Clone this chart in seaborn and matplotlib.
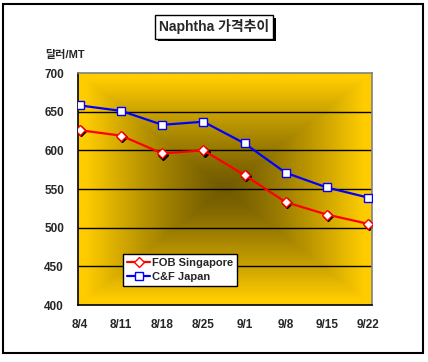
import numpy as np
import pandas as pd
import matplotlib
matplotlib.use("Agg")
import matplotlib.pyplot as plt
import matplotlib.patheffects as pe
from matplotlib.patches import Rectangle
from matplotlib.transforms import offset_copy
import seaborn as sns

dates = ["8/4", "8/11", "8/18", "8/25", "9/1", "9/8", "9/15", "9/22"]
fob_singapore = [626, 619, 596, 600, 568, 533, 517, 505]
cf_japan = [658, 651, 633, 637, 609, 571, 552, 539]
series_names = ["FOB Singapore", "C&F Japan"]

df = pd.DataFrame({
    "idx": list(range(len(dates))) * 2,
    "price": fob_singapore + cf_japan,
    "series": [series_names[0]] * len(dates) + [series_names[1]] * len(dates),
})

sns.set_style("white")
plt.rcParams['font.family'] = ['Liberation Sans', 'Noto Sans CJK KR', 'DejaVu Sans']

fig = plt.figure(figsize=(4.28, 3.62), dpi=100)
ax = fig.add_axes([78 / 428, 1 - 305 / 362, 294 / 428, 232 / 362])

# gold background, dark in the middle
xlim = (-0.05, 7.1)
ylim = (400, 700)
gx = np.linspace(-1, 1, 300)
gy = np.linspace(-1, 1, 240)
XX, YY = np.meshgrid(gx, gy)
t = np.clip(np.maximum(np.abs(XX), np.abs(YY)) / 0.95, 0, 1) ** 1.25
dark = np.array([0.44, 0.35, 0.0])
edge = np.array([1.0, 0.80, 0.0])
img = dark + (edge - dark) * t[..., None]
ax.imshow(img, extent=[xlim[0], xlim[1], ylim[0], ylim[1]], aspect="auto",
          zorder=0, interpolation="bilinear")

for g in [450, 500, 550, 600, 650]:
    ax.axhline(g, color="black", lw=1, zorder=1)

colors = {"FOB Singapore": "#FF0000", "C&F Japan": "#0000FF"}
markers = {"FOB Singapore": "D", "C&F Japan": "s"}
sizes = {"FOB Singapore": 4.6, "C&F Japan": 5.2}

# black shadow under the red diamonds
shadow_tr = offset_copy(ax.transData, fig=fig, x=1.2, y=-1.2, units="dots")
ax.plot(range(len(dates)), fob_singapore, linestyle="none", marker="D", ms=4.6,
        color="black", transform=shadow_tr, zorder=2)

for name in series_names:
    sns.lineplot(data=df[df["series"] == name], x="idx", y="price", ax=ax,
                 color=colors[name], lw=1.6, marker=markers[name],
                 markersize=sizes[name], markerfacecolor="white",
                 markeredgecolor=colors[name], markeredgewidth=1.0,
                 label=name, zorder=3)

ax.set_xlim(*xlim)
ax.set_ylim(*ylim)
ax.set_xticks(range(len(dates)))
ax.set_xticklabels(dates)
ax.set_yticks([400, 450, 500, 550, 600, 650, 700])
ax.set_xlabel("")
ax.set_ylabel("")
ax.tick_params(axis="x", direction="in", length=3, width=1, color="black",
               pad=10, labelsize=8.5)
ax.tick_params(axis="y", length=0, pad=10, labelsize=8.5)
for lab in ax.get_xticklabels() + ax.get_yticklabels():
    lab.set_fontweight("bold")

for s in ["top", "right"]:
    ax.spines[s].set_color("#808080")
    ax.spines[s].set_linewidth(1.2)
for s in ["left", "bottom"]:
    ax.spines[s].set_color("black")
    ax.spines[s].set_linewidth(1.2)

leg = ax.legend(loc="upper left", bbox_to_anchor=(123 / 428, 1 - 254 / 362),
                bbox_transform=fig.transFigure, frameon=True, fancybox=False,
                edgecolor="black", framealpha=1, fontsize=8, handlelength=2.1,
                handletextpad=0.2, labelspacing=0.35, borderpad=0.35,
                borderaxespad=0)
leg.get_frame().set_linewidth(1.0)
for txt in leg.get_texts():
    txt.set_fontweight("bold")

title = fig.text(214 / 428, 1 - 27 / 362, "Naphtha 가격추이", ha="center",
                 va="center", fontsize=10, fontweight="bold",
                 bbox=dict(boxstyle="square,pad=0.3", fc="white", ec="black", lw=1))
title.get_bbox_patch().set_path_effects(
    [pe.SimplePatchShadow(offset=(2, -2), shadow_rgbFace="black", alpha=1), pe.Normal()])

fig.text(45 / 428, 1 - 55 / 362, "달러/MT", ha="left", va="center",
         fontsize=8, fontweight="bold")

fig.add_artist(Rectangle((3 / 428, 1 - 353 / 362), 420 / 428, 349 / 362,
                         transform=fig.transFigure, fill=False, ec="black", lw=1.5))

fig.savefig("out.png", dpi=100, facecolor="white")
